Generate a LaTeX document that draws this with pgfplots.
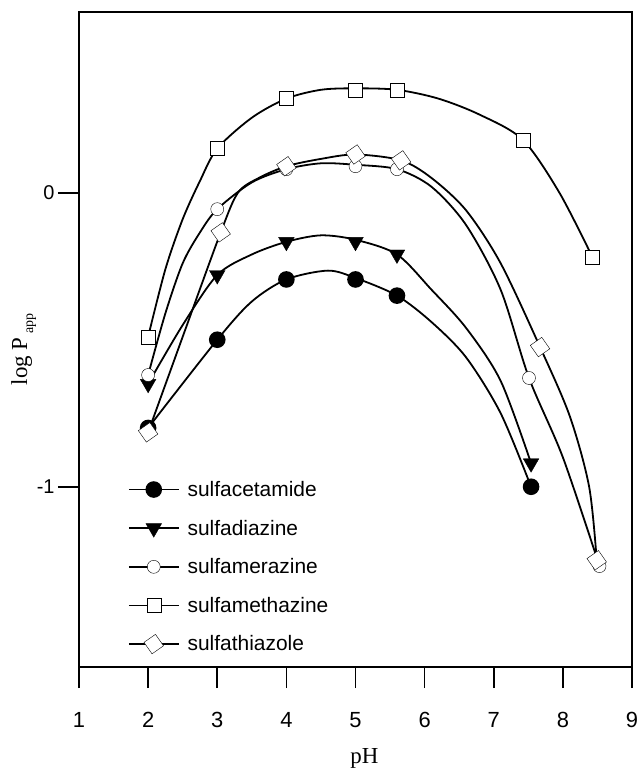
\documentclass[border=0pt]{standalone}
\usepackage{fontspec}
\setmainfont{Liberation Sans}
\newfontfamily\serif{Liberation Serif}
\usepackage{pgfplots}
\pgfplotsset{compat=1.18}

\pgfplotsset{
  curve/.style={black, line width=1.8bp, smooth, tension=0.5, forget plot},
  pts/.style={black, only marks, mark options={solid, line width=1.6bp}},
}

\begin{document}
\begin{tikzpicture}
\begin{axis}[
  scale only axis, width=553bp, height=655bp,
  xmin=1, xmax=9, ymin=-1.613, ymax=0.6146,
  axis line style={line width=1.6bp},
  xtick={1,2,...,9}, ytick={-1,0}, yticklabels={-1,0},
  xtick pos=bottom, ytick pos=left, tick align=outside,
  major tick length=21bp,
  tick style={line width=1.6bp, black},
  /pgf/number format/assume math mode=true,
  xticklabel style={font=\fontsize{22}{26}\selectfont, yshift=-21bp},
  yticklabel style={font=\fontsize{20}{24}\selectfont},
  xlabel={\serif pH},
  ylabel={\serif log P\,\raisebox{-6bp}{\fontsize{14}{14}\selectfont app}},
  label style={font=\fontsize{23}{27}\selectfont},
  xlabel style={at={(axis description cs:0.5,0)}, anchor=base, yshift=-96bp, xshift=9bp},
  ylabel style={at={(axis description cs:-0.094,0.485)}, anchor=base},
  clip=false,
  legend cell align=left,
  legend image code/.code={
    \draw[black, line width=1.8bp] (0bp,0bp) -- (50bp,0bp);
    \draw[#1] plot coordinates {(25bp,0bp)};
  },
  legend style={at={(rel axis cs:0.088,0.287)}, anchor=north west, draw=none, fill=none,
    inner sep=0pt, font=\fontsize{21}{25}\selectfont, row sep=18bp,
    /tikz/every odd column/.append style={column sep=6bp}},
]
% fitted curves
\addplot[curve] coordinates {
  (2,-0.80) (3,-0.50) (3.5,-0.37) (4,-0.295) (4.6,-0.265) (5,-0.29) (5.6,-0.35)
  (6.1,-0.44) (6.6,-0.56) (7.1,-0.75) (7.54,-1.0)
};
\addplot[curve] coordinates {
  (2,-0.65) (2.5,-0.45) (3,-0.28) (3.5,-0.21) (4,-0.167) (4.5,-0.145) (5,-0.16)
  (5.6,-0.21) (6.1,-0.33) (6.6,-0.46) (7.1,-0.64) (7.54,-0.92)
};
\addplot[curve] coordinates {
  (2,-0.62) (2.25,-0.41) (2.5,-0.24) (2.75,-0.135) (3,-0.056) (3.5,0.035) (4,0.08)
  (4.5,0.10) (5,0.095) (5.6,0.08) (6.1,0.02) (6.6,-0.11) (7.1,-0.33) (7.51,-0.63)
  (8.0,-0.90) (8.53,-1.27)
};
\addplot[curve] coordinates {
  (2,-0.49) (2.25,-0.26) (2.5,-0.09) (2.75,0.04) (3,0.15) (3.5,0.255) (4,0.32)
  (4.5,0.35) (5,0.355) (5.6,0.35) (6.2,0.32) (6.8,0.265) (7.42,0.18) (7.95,0.0) (8.43,-0.22)
};
\addplot[curve] coordinates {
  (2,-0.815) (2.5,-0.49) (3.05,-0.135) (3.3,0.0) (3.6,0.05) (4,0.09) (4.5,0.115)
  (5,0.13) (5.66,0.11) (6.1,0.05) (6.6,-0.06) (7.1,-0.24) (7.67,-0.525) (8.1,-0.76)
  (8.38,-1.0) (8.49,-1.25)
};
% measured points
\addplot[pts, mark=*, mark size=7.5bp] coordinates {
  (2,-0.80) (3,-0.50) (4,-0.295) (5,-0.295) (5.6,-0.35) (7.54,-1.00)
};
\addlegendentry{sulfacetamide}
\addplot[pts, mark=triangle*, mark size=9bp, mark options={rotate=180}] coordinates {
  (2,-0.65) (3,-0.28) (4,-0.167) (5,-0.167) (5.6,-0.21) (7.54,-0.92)
};
\addlegendentry{sulfadiazine}
\addplot[pts, mark=*, mark size=6.5bp, mark options={fill=white}] coordinates {
  (2,-0.62) (3,-0.056) (4,0.08) (5,0.09) (5.6,0.08) (7.51,-0.63) (8.53,-1.27)
};
\addlegendentry{sulfamerazine}
\addplot[pts, mark=square*, mark size=7bp, mark options={fill=white}] coordinates {
  (2,-0.49) (3,0.15) (4,0.32) (5,0.35) (5.6,0.35) (7.42,0.18) (8.43,-0.22)
};
\addlegendentry{sulfamethazine}
\addplot[pts, mark=square*, mark size=7bp, mark options={fill=white, rotate=35}] coordinates {
  (2,-0.815) (3.05,-0.135) (4,0.09) (5,0.13) (5.66,0.11) (7.67,-0.525) (8.49,-1.25)
};
\addlegendentry{sulfathiazole}
\end{axis}
\pgfresetboundingbox
\path[use as bounding box] (-79bp,-110bp) rectangle (560bp,667bp);
\end{tikzpicture}
\end{document}
